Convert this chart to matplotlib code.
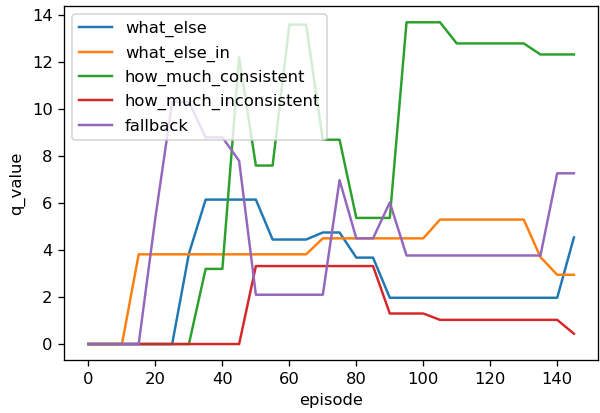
import matplotlib
matplotlib.use("Agg")
import matplotlib.pyplot as plt

episode = list(range(0, 150, 5))

what_else = [0, 0, 0, 0, 0, 0, 3.85, 6.15, 6.15, 6.15, 6.15, 4.45, 4.45, 4.45, 4.75, 4.75,
             3.68, 3.68, 1.97, 1.97, 1.97, 1.97, 1.97, 1.97, 1.97, 1.97, 1.97, 1.97, 1.97, 4.54]
what_else_in = [0, 0, 0, 3.82, 3.82, 3.82, 3.82, 3.82, 3.82, 3.82, 3.82, 3.82, 3.82, 3.82, 4.5, 4.5,
                4.5, 4.5, 4.5, 4.5, 4.5, 5.3, 5.3, 5.3, 5.3, 5.3, 5.3, 3.7, 2.95, 2.95]
how_much_consistent = [0, 0, 0, 0, 0, 0, 0, 3.2, 3.2, 12.2, 7.6, 7.6, 13.6, 13.6, 8.7, 8.7,
                       5.37, 5.37, 5.37, 13.7, 13.7, 13.7, 12.8, 12.8, 12.8, 12.8, 12.8, 12.33, 12.33, 12.33]
how_much_inconsistent = [0, 0, 0, 0, 0, 0, 0, 0, 0, 0, 3.32, 3.32, 3.32, 3.32, 3.32, 3.32,
                         3.32, 3.32, 1.3, 1.3, 1.3, 1.03, 1.03, 1.03, 1.03, 1.03, 1.03, 1.03, 1.03, 0.44]
fallback = [0, 0, 0, 0, 5.4, 10.3, 10.3, 8.8, 8.8, 7.8, 2.1, 2.1, 2.1, 2.1, 2.1, 6.98,
            4.5, 4.5, 6.03, 3.77, 3.77, 3.77, 3.77, 3.77, 3.77, 3.77, 3.77, 3.77, 7.27, 7.27]

series = {"what_else": what_else, "what_else_in": what_else_in,
          "how_much_consistent": how_much_consistent,
          "how_much_inconsistent": how_much_inconsistent, "fallback": fallback}

# screenshot looks like a default notebook figure scaled up ~1.18x
dpi = 118
fig, ax = plt.subplots(figsize=(600 / dpi, 413 / dpi), dpi=dpi)
fig.subplots_adjust(left=0.107, right=0.997, bottom=0.128, top=0.985)
for name, vals in series.items():
    ax.plot(episode, vals, label=name)
ax.set_xlabel("episode")
ax.set_ylabel("q_value")
ax.legend(loc="upper left")
fig.savefig("out.png", dpi=dpi)
